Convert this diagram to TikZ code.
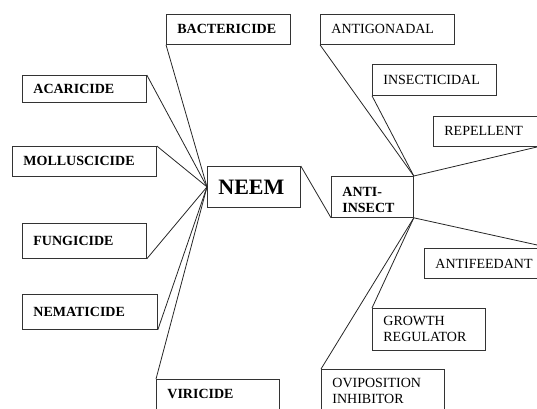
\documentclass[tikz,border=0pt]{standalone}
\usepackage{fontspec}
\setmainfont{Liberation Serif}

\begin{document}
\begin{tikzpicture}[x=1pt,y=-1pt,
  box/.style={draw=black!80, line width=0.8pt, rectangle, anchor=north west,
    inner xsep=11pt, inner ysep=0pt, align=left, font=\fontsize{14}{16}\selectfont},
  bbox/.style={box, font=\fontsize{14}{16}\selectfont\bfseries},
  link/.style={draw=black!85, line width=0.8pt}]
  \useasboundingbox (0,0) rectangle (537,408);
  \clip (0,0) rectangle (537,408);
  % centre
  \node[bbox, text width=71pt, minimum height=41pt, font=\fontsize{22}{24}\selectfont\bfseries] (neem) at (207,166) {NEEM};
  \node[bbox, text width=60pt, minimum height=41pt, text height=15pt, text depth=16pt] (antiins) at (331,176) {ANTI-\\INSECT};
  % left side
  \node[bbox, text width=102pt, minimum height=30pt] (bact) at (166,14) {BACTERICIDE};
  \node[bbox, text width=102pt, minimum height=27pt] (acar) at (22,75) {ACARICIDE};
  \node[bbox, text width=122pt, minimum height=30pt] (moll) at (12,146) {MOLLUSCICIDE};
  \node[bbox, text width=102pt, minimum height=35pt] (fung) at (22,223) {FUNGICIDE};
  \node[bbox, text width=113pt, minimum height=35pt] (nema) at (22,294) {NEMATICIDE};
  \node[bbox, text width=101pt, minimum height=38pt, text depth=10pt] (viri) at (156,379) {VIRICIDE};
  % right side
  \node[box, text width=112pt, minimum height=30pt] (gona) at (320,14) {ANTIGONADAL};
  \node[box, text width=102pt, minimum height=31pt] (insc) at (372,64) {INSECTICIDAL};
  \node[box, text width=82pt, minimum height=30pt] (repe) at (433,116) {REPELLENT};
  \node[box, text width=104pt, minimum height=30pt] (feed) at (424,248) {ANTIFEEDANT};
  \node[box, text width=91pt, minimum height=42pt] (grow) at (372,308) {GROWTH\\REGULATOR};
  \node[box, text width=101pt, minimum height=44pt] (ovip) at (321,369) {OVIPOSITION\\INHIBITOR};
  % connectors
  \draw[link] (neem.west) -- (bact.south west);
  \draw[link] (neem.west) -- (acar.north east);
  \draw[link] (neem.west) -- (moll.north east);
  \draw[link] (neem.west) -- (fung.south east);
  \draw[link] (neem.west) -- (nema.south east);
  \draw[link] (neem.west) -- (viri.north west);
  \draw[link] (neem.north east) -- (antiins.south west);
  \draw[link] (antiins.north east) -- (gona.south west);
  \draw[link] (antiins.north east) -- (insc.south west);
  \draw[link] (antiins.north east) -- (repe.south east);
  \draw[link] (antiins.south east) -- (feed.north east);
  \draw[link] (antiins.south east) -- (grow.north west);
  \draw[link] (antiins.south east) -- (ovip.north west);
\end{tikzpicture}
\end{document}
